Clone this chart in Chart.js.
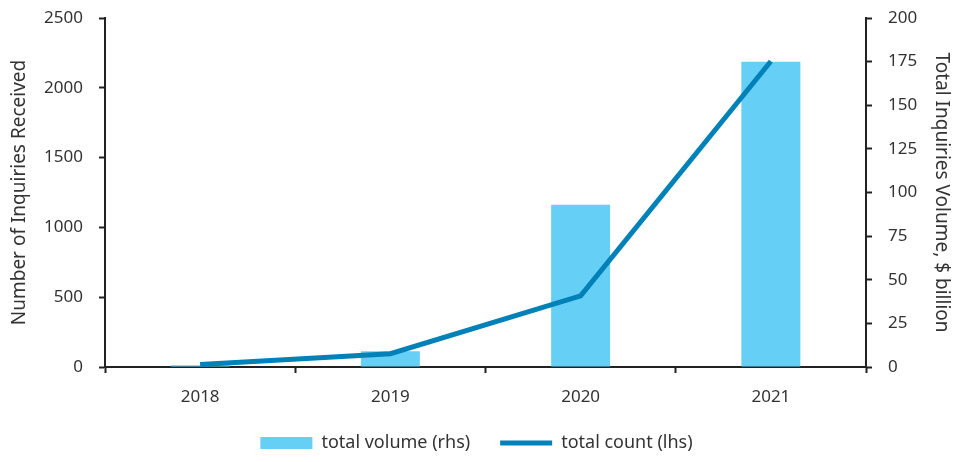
<!DOCTYPE html>
<html lang="en">
<head>
    <meta charset="UTF-8">
    <title>Inquiries Received</title>
    <style>
        html, body { margin: 0; padding: 0; background: #fff; }
        #wrap { width: 953px; height: 462px; }
    </style>
</head>
<body>
    <div id="wrap"><canvas id="myChart" width="953" height="462"></canvas></div>
    <script src="https://cdn.jsdelivr.net/npm/chart.js"></script>
    <script>
        var years = ['2018', '2019', '2020', '2021'];
        // $ billion, right axis
        var totalVolume = [1, 9, 93, 175];
        // number of inquiries, left axis
        var totalCount = [18, 95, 510, 2190];

        var barColor = '#66cff5';
        var lineColor = '#0082b9';
        var inkColor = '#222222';
        var tickFont = { family: 'Noto Sans', size: 17 };
        var titleFont = { family: 'Noto Sans', size: 19 };
        var legendFont = { family: 'Noto Sans', size: 18 };

        function plainNumber(value){ return String(value); }

        // fixed box sizes so the plot area lines up with the axes
        function fitVertical(width){
            return function(scale){
                scale.width = width;
                scale.paddingTop = 0;
                scale.paddingBottom = 0;
            };
        }

        function createChart(){
            var ctx = document.getElementById('myChart').getContext('2d');
            var myChart = new Chart(ctx, {
                data: {
                    labels: years,
                    datasets: [
                        {
                            type: 'line',
                            label: 'total count (lhs)',
                            data: totalCount,
                            yAxisID: 'yLeft',
                            borderColor: lineColor,
                            backgroundColor: lineColor,
                            borderWidth: 5,
                            pointRadius: 0,
                            tension: 0,
                            order: 1
                        },
                        {
                            type: 'bar',
                            label: 'total volume (rhs)',
                            data: totalVolume,
                            yAxisID: 'yRight',
                            backgroundColor: barColor,
                            borderWidth: 0,
                            categoryPercentage: 1,
                            barPercentage: 0.31,
                            order: 2
                        }
                    ]
                },
                options: {
                    responsive: false,
                    animation: false,
                    layout: { padding: { top: 18, left: 0, right: 0, bottom: 0 } },
                    plugins: {
                        tooltip: { enabled: false },
                        legend: {
                            position: 'bottom',
                            reverse: true,
                            labels: {
                                usePointStyle: true,
                                pointStyleWidth: 52,
                                boxHeight: 12,
                                padding: 30,
                                color: '#333',
                                font: legendFont,
                                generateLabels: function(chart){
                                    var items = Chart.defaults.plugins.legend.labels.generateLabels(chart);
                                    items.forEach(function(item){
                                        var ds = chart.data.datasets[item.datasetIndex];
                                        if (ds.type === 'line') {
                                            item.pointStyle = 'line';
                                            item.strokeStyle = lineColor;
                                            item.lineWidth = 5;
                                        } else {
                                            item.pointStyle = 'rect';
                                            item.lineWidth = 0;
                                        }
                                    });
                                    return items;
                                }
                            }
                        }
                    },
                    scales: {
                        x: {
                            offset: true,
                            grid: { drawOnChartArea: false, offset: true, tickLength: 6, tickColor: inkColor, tickWidth: 2 },
                            border: { color: inkColor, width: 2 },
                            ticks: { color: '#333', font: tickFont, padding: 14 },
                            afterFit: function(scale){
                                scale.height = 37;
                                scale.paddingLeft = 0;
                                scale.paddingRight = 0;
                            }
                        },
                        yLeft: {
                            position: 'left',
                            min: 0,
                            max: 2500,
                            grid: { drawOnChartArea: false, tickLength: 6, tickColor: inkColor, tickWidth: 2 },
                            border: { color: inkColor, width: 2 },
                            ticks: { stepSize: 500, color: '#333', font: tickFont, padding: 16, callback: plainNumber },
                            title: { display: true, text: 'Number of Inquiries Received', color: '#333', font: titleFont, padding: { top: 8, bottom: 0 } },
                            afterFit: fitVertical(105)
                        },
                        yRight: {
                            position: 'right',
                            min: 0,
                            max: 200,
                            grid: { drawOnChartArea: false, tickLength: 6, tickColor: inkColor, tickWidth: 2 },
                            border: { color: inkColor, width: 2 },
                            ticks: { stepSize: 25, color: '#333', font: tickFont, padding: 16, callback: plainNumber },
                            title: { display: true, text: 'Total Inquiries Volume, $ billion', color: '#333', font: titleFont, padding: { top: 0, bottom: 0 } },
                            afterFit: fitVertical(87)
                        }
                    }
                }
            });
        }

        createChart();
    </script>
</body>
</html>
